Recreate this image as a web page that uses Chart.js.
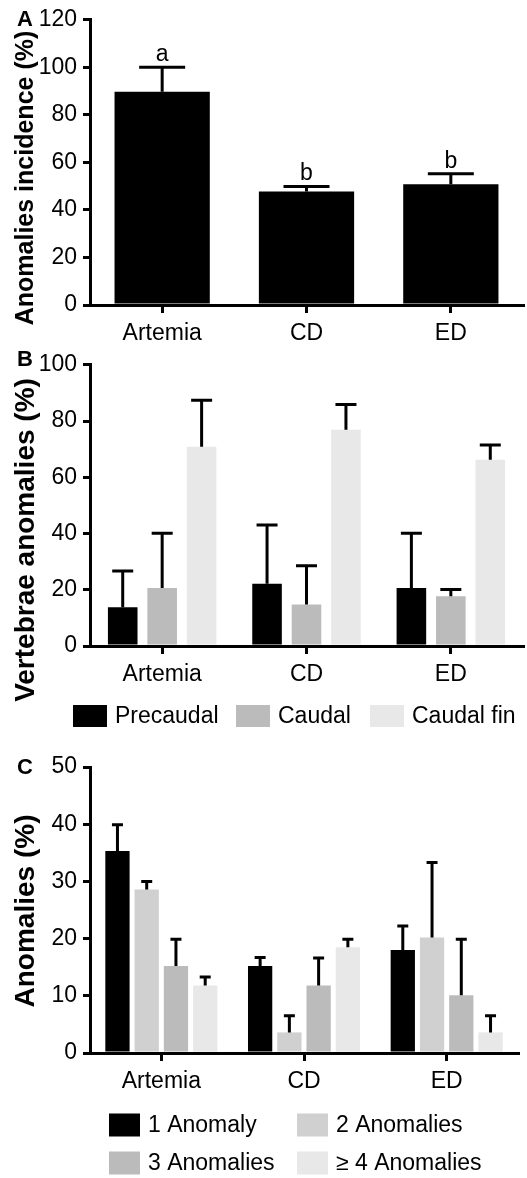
<!DOCTYPE html>
<html>
<head>
<meta charset="utf-8">
<script src="https://cdn.jsdelivr.net/npm/chart.js@4.4.1/dist/chart.umd.min.js"></script>
<style>
  body { margin: 0; background: #fff; }
  #wrap { position: relative; width: 527px; height: 1178px; }
  .panel { position: absolute; left: 0; width: 527px; }
</style>
</head>
<body>
<div id="wrap">
  <div class="panel" style="top:0;height:345px"><canvas id="chartA"></canvas></div>
  <div class="panel" style="top:345px;height:395px"><canvas id="chartB"></canvas></div>
  <div class="panel" style="top:740px;height:438px"><canvas id="chartC"></canvas></div>
</div>
<script>
// data
const categories = ['Artemia', 'CD', 'ED']

const incidence = [89.7, 47.8, 50.8]
const incidenceSd = [10.3, 2.1, 4.4]
const incidenceLetters = ['a', 'b', 'b']

const precaudal = [13.8, 22.1, 20.6]
const precaudalSd = [12.9, 20.9, 19.5]
const caudal = [20.6, 14.8, 17.7]
const caudalSd = [19.5, 13.7, 2.4]
const caudalFin = [70.9, 76.9, 66.2]
const caudalFinSd = [16.5, 9.0, 5.3]

const oneAnomaly = [35.3, 15.2, 18.0]
const oneAnomalySd = [4.6, 1.5, 4.2]
const twoAnomalies = [28.6, 3.6, 20.2]
const twoAnomaliesSd = [1.4, 2.9, 13.1]
const threeAnomalies = [15.2, 11.8, 10.1]
const threeAnomaliesSd = [4.7, 4.8, 9.8]
const fourAnomalies = [11.8, 18.5, 3.6]
const fourAnomaliesSd = [1.5, 1.4, 2.9]

const FONT = "'Liberation Sans', Arial, sans-serif"
Chart.defaults.font.family = FONT
Chart.defaults.color = '#000'

// error bars (upper only) + letters above them
const errorBars = {
  id: 'errorBars',
  afterDatasetsDraw(chart, args, opts) {
    const ctx = chart.ctx
    const y = chart.scales.y
    ctx.save()
    ctx.strokeStyle = '#000'
    ctx.lineWidth = 3
    chart.data.datasets.forEach((ds, i) => {
      const meta = chart.getDatasetMeta(i)
      meta.data.forEach((bar, j) => {
        const top = y.getPixelForValue(ds.data[j] + ds.sd[j])
        ctx.beginPath()
        ctx.moveTo(bar.x, bar.y)
        ctx.lineTo(bar.x, top)
        ctx.moveTo(bar.x - opts.cap, top)
        ctx.lineTo(bar.x + opts.cap, top)
        ctx.stroke()
        if (ds.letters) {
          ctx.fillStyle = '#000'
          ctx.font = '23px ' + FONT
          ctx.textAlign = 'center'
          ctx.textBaseline = 'alphabetic'
          ctx.fillText(ds.letters[j], bar.x, top - 6)
        }
      })
    })
    ctx.restore()
  }
}

// panel letter and rotated y title
const panelText = {
  id: 'panelText',
  afterDraw(chart, args, opts) {
    const ctx = chart.ctx
    ctx.save()
    ctx.fillStyle = '#000'
    ctx.font = 'bold 22px ' + FONT
    ctx.textAlign = 'center'
    ctx.textBaseline = 'middle'
    ctx.fillText(opts.letter, 25, opts.letterY)
    ctx.translate(26, opts.titleY)
    ctx.rotate(-Math.PI / 2)
    ctx.font = 'bold ' + opts.titleSize + 'px ' + FONT
    ctx.fillText(opts.title, 0, 0)
    ctx.restore()
  }
}

// boxes + labels at fixed slots
const boxLegend = {
  id: 'boxLegend',
  afterDraw(chart, args, opts) {
    if (!opts.slots) return
    const ctx = chart.ctx
    ctx.save()
    ctx.font = '23px ' + FONT
    ctx.textBaseline = 'middle'
    ctx.textAlign = 'left'
    chart.data.datasets.forEach((ds, i) => {
      const s = opts.slots[i]
      ctx.fillStyle = ds.backgroundColor
      ctx.fillRect(s[0], s[1] - opts.boxH / 2, opts.boxW, opts.boxH)
      ctx.fillStyle = '#000'
      ctx.fillText(ds.label, s[0] + opts.boxW + 8, s[1] + 1)
    })
    ctx.restore()
  }
}

function scalesFor(max, step, xHeight) {
  return {
    x: {
      grid: { offset: false, drawOnChartArea: false, drawTicks: true, tickLength: 8, color: '#000', lineWidth: 3 },
      border: { color: '#000', width: 3 },
      ticks: { font: { size: 23 }, padding: 7, color: '#000' },
      afterFit: (s) => { s.height = xHeight }
    },
    y: {
      min: 0,
      max: max,
      grid: { drawOnChartArea: false, drawTicks: true, tickLength: 7, color: '#000', lineWidth: 3 },
      border: { color: '#000', width: 3 },
      ticks: { stepSize: step, font: { size: 23 }, padding: 6, color: '#000' },
      afterFit: (s) => { s.width = 90 }
    }
  }
}

function makeChart(el, datasets, o) {
  return new Chart(el, {
    type: 'bar',
    data: { labels: categories, datasets: datasets },
    options: {
      responsive: true,
      maintainAspectRatio: false,
      animation: false,
      categoryPercentage: o.cat,
      barPercentage: o.bar,
      layout: { padding: { top: o.top, right: o.right, left: 0, bottom: 0 } },
      scales: scalesFor(o.max, o.step, o.xHeight),
      plugins: {
        legend: { display: false },
        tooltip: { enabled: false },
        errorBars: { cap: o.cap },
        panelText: o.text,
        boxLegend: o.legend || {}
      }
    },
    plugins: [errorBars, panelText, boxLegend]
  })
}

makeChart(document.getElementById('chartA'), [
  { label: 'Incidence', data: incidence, sd: incidenceSd, letters: incidenceLetters, backgroundColor: '#000' }
], {
  cat: 1, bar: 0.66, top: 18, right: 4, max: 120, step: 20, xHeight: 40, cap: 23,
  text: { letter: 'A', letterY: 20, title: 'Anomalies incidence (%)', titleY: 178, titleSize: 25 }
})

makeChart(document.getElementById('chartB'), [
  { label: 'Precaudal', data: precaudal, sd: precaudalSd, backgroundColor: '#000000' },
  { label: 'Caudal', data: caudal, sd: caudalSd, backgroundColor: '#bbbbbb' },
  { label: 'Caudal fin', data: caudalFin, sd: caudalFinSd, backgroundColor: '#e8e8e8' }
], {
  cat: 0.82, bar: 0.75, top: 14, right: 4, max: 100, step: 20, xHeight: 94, cap: 10.5,
  text: { letter: 'B', letterY: 15, title: 'Vertebrae anomalies (%)', titleY: 195, titleSize: 28 },
  legend: { boxW: 34, boxH: 22, slots: [[73, 371], [236, 371], [370, 371]] }
})

makeChart(document.getElementById('chartC'), [
  { label: '1 Anomaly', data: oneAnomaly, sd: oneAnomalySd, backgroundColor: '#000000' },
  { label: '2 Anomalies', data: twoAnomalies, sd: twoAnomaliesSd, backgroundColor: '#d0d0d0' },
  { label: '3 Anomalies', data: threeAnomalies, sd: threeAnomaliesSd, backgroundColor: '#bbbbbb' },
  { label: '\u2265 4 Anomalies', data: fourAnomalies, sd: fourAnomaliesSd, backgroundColor: '#e8e8e8' }
], {
  cat: 0.82, bar: 0.83, top: 27, right: 9, max: 50, step: 10, xHeight: 125, cap: 5.5,
  text: { letter: 'C', letterY: 28, title: 'Anomalies (%)', titleY: 171, titleSize: 28 },
  legend: { boxW: 31, boxH: 23, slots: [[109, 385], [297, 385], [109, 423], [297, 423]] }
})
</script>
</body>
</html>
